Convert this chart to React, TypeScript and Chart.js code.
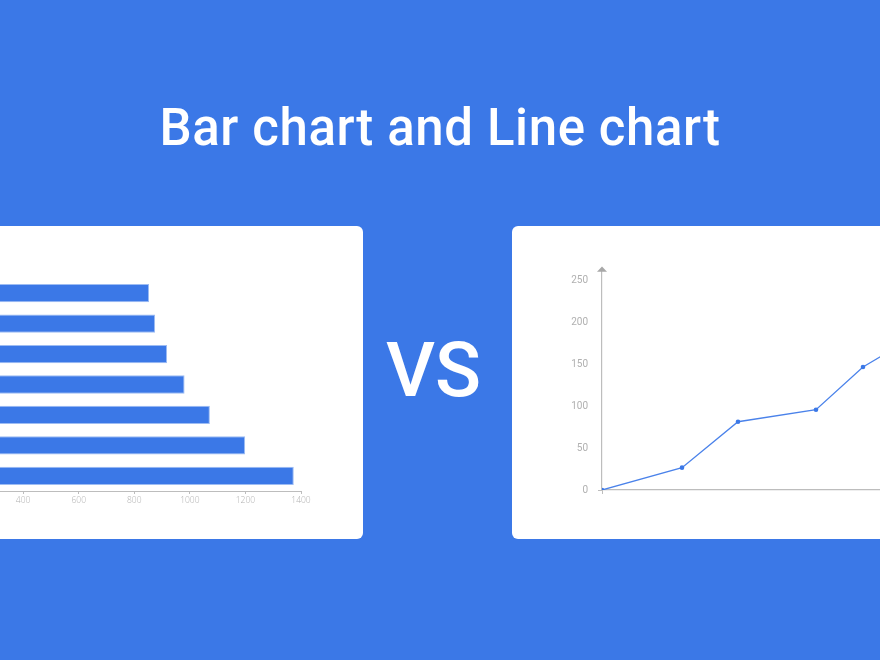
import React, { useEffect, useRef } from "react";
import { Chart, registerables } from "chart.js";

Chart.register(...registerables);

// ---- Data ----
const TITLE = "Bar chart and Line chart";
const VS_TEXT = "VS";

const barCategories = ["A", "B", "C", "D", "E", "F", "G"];
const barValues = [853, 875, 918, 981, 1072, 1199, 1374];
const barTicksMax = 1400;
const barTickStep = 200;

const lineX = [0, 8, 13.6, 21.4, 26.1, 31, 37];
const lineY = [0, 26.6, 81.3, 95.6, 146.5, 181, 215];
const lineYMax = 262;
const lineYTicks = [0, 50, 100, 150, 200, 250];
const lineXMax = 40;

const BLUE = "#3b78e7";
const GRAY = "#bdbdbd";
const LABEL_GRAY = "#b0b0b0";

const arrowPlugin = {
  id: "yArrow",
  afterDraw(chart: any) {
    const { ctx, chartArea } = chart;
    const x = chartArea.left;
    const t = chartArea.top;
    ctx.save();
    ctx.fillStyle = "#a8a8a8";
    ctx.beginPath();
    ctx.moveTo(x, t - 3.5);
    ctx.lineTo(x - 5, t + 1.8);
    ctx.lineTo(x + 5, t + 1.8);
    ctx.closePath();
    ctx.fill();
    ctx.restore();
  },
};

function BarCard() {
  const ref = useRef<HTMLCanvasElement>(null);
  useEffect(() => {
    const chart = new Chart(ref.current!, {
      type: "bar",
      data: {
        labels: barCategories,
        datasets: [
          {
            data: barValues,
            backgroundColor: BLUE,
            borderColor: "#9dbcf3",
            borderWidth: 1,
            barPercentage: 0.6,
            categoryPercentage: 1,
          },
        ],
      },
      options: {
        indexAxis: "y",
        animation: false,
        responsive: false,
        maintainAspectRatio: false,
        layout: { padding: { top: 42, left: 32, right: 39, bottom: 0 } },
        plugins: { legend: { display: false }, tooltip: { enabled: false } },
        scales: {
          y: { display: false, offset: true },
          x: {
            min: 0,
            max: barTicksMax,
            afterFit: (s: any) => {
              s.height = 35;
            },
            ticks: {
              stepSize: barTickStep,
              color: LABEL_GRAY,
              padding: 1,
              font: { family: "'Open Sans'", size: 8.5, weight: 300 },
              callback: (v: any) => String(v),
            },
            grid: {
              drawOnChartArea: false,
              drawTicks: true,
              tickLength: 3,
              color: GRAY,
            },
            border: { display: true, color: GRAY, width: 1 },
          },
        },
      },
    });
    return () => chart.destroy();
  }, []);
  return (
    <canvas
      ref={ref}
      width={460}
      height={290}
      style={{ position: "absolute", left: -20, top: 10, width: 460, height: 290 }}
    />
  );
}

function LineCard() {
  const ref = useRef<HTMLCanvasElement>(null);
  useEffect(() => {
    const chart = new Chart(ref.current!, {
      type: "line",
      data: {
        datasets: [
          {
            data: lineX.map((x, i) => ({ x, y: lineY[i] })),
            borderColor: "#4a82ea",
            backgroundColor: BLUE,
            borderWidth: 1.3,
            pointRadius: 2.3,
            pointBorderWidth: 0,
            tension: 0,
          },
        ],
      },
      options: {
        animation: false,
        responsive: false,
        maintainAspectRatio: false,
        layout: { padding: { top: 30, left: 0, right: 18, bottom: 0 } },
        plugins: { legend: { display: false }, tooltip: { enabled: false } },
        scales: {
          x: {
            type: "linear",
            min: 0,
            max: lineXMax,
            afterFit: (s: any) => {
              s.height = 30;
            },
            ticks: { display: false, stepSize: 10 },
            grid: {
              drawOnChartArea: false,
              drawTicks: true,
              tickLength: 4,
              color: (c: any) => (c.tick && c.tick.value === 0 ? GRAY : "transparent"),
            },
            border: { display: true, color: GRAY, width: 1.2 },
          },
          y: {
            min: 0,
            max: lineYMax,
            afterFit: (s: any) => {
              s.width = 62;
            },
            afterBuildTicks: (s: any) => {
              s.ticks = lineYTicks.map((v) => ({ value: v }));
            },
            ticks: {
              color: LABEL_GRAY,
              padding: 10,
              font: { family: "Roboto", size: 10 },
            },
            grid: {
              drawOnChartArea: false,
              drawTicks: true,
              tickLength: 4,
              color: (c: any) => (c.tick && c.tick.value === 0 ? GRAY : "transparent"),
            },
            border: { display: true, color: GRAY, width: 1.2 },
          },
        },
      },
      plugins: [arrowPlugin],
    });
    return () => chart.destroy();
  }, []);
  return (
    <canvas
      ref={ref}
      width={480}
      height={280}
      style={{ position: "absolute", left: 28, top: 14, width: 480, height: 280 }}
    />
  );
}

export default function App() {
  const cardStyle: React.CSSProperties = {
    position: "absolute",
    top: 226,
    height: 313,
    background: "#ffffff",
    borderRadius: 6,
    overflow: "hidden",
  };
  return (
    <div
      style={{
        position: "fixed",
        left: 0,
        top: 0,
        width: 880,
        height: 660,
        background: BLUE,
        overflow: "hidden",
        fontFamily: "Roboto, sans-serif",
      }}
    >
      <div
        style={{
          position: "absolute",
          left: 0,
          width: 880,
          top: 93,
          textAlign: "center",
          color: "#ffffff",
          fontSize: 51,
          fontWeight: 500,
          letterSpacing: 0.6,
          lineHeight: "70px",
        }}
      >
        {TITLE}
      </div>
      <div
        style={{
          position: "absolute",
          left: 386,
          top: 322,
          color: "#ffffff",
          fontSize: 76,
          fontWeight: 500,
          lineHeight: "96px",
        }}
      >
        {VS_TEXT}
      </div>
      <div style={{ ...cardStyle, left: -100, width: 463 }}>
        <BarCard />
      </div>
      <div style={{ ...cardStyle, left: 512, width: 420 }}>
        <LineCard />
      </div>
    </div>
  );
}
